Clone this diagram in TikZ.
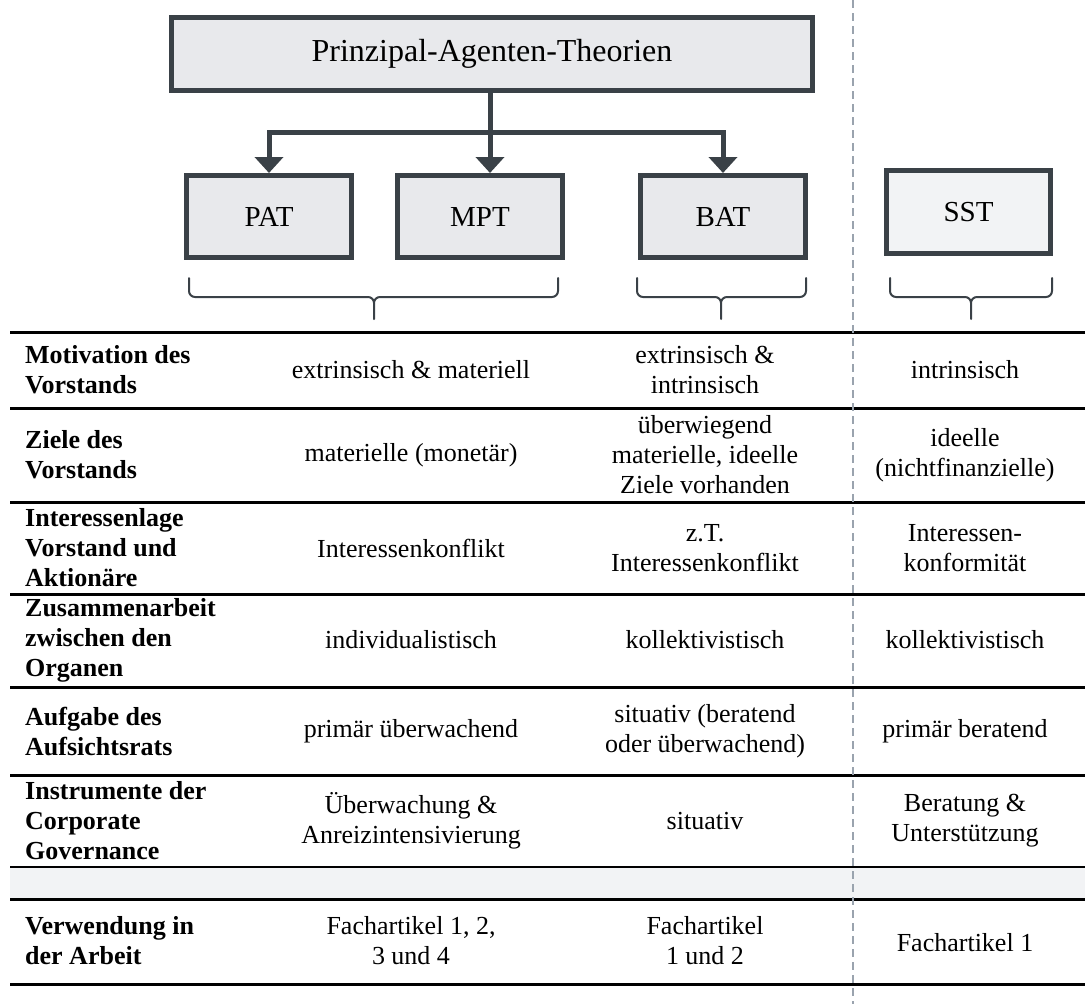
\documentclass[tikz,border=0pt]{standalone}
\usepackage{fontspec}
\setmainfont{Liberation Serif}
\usetikzlibrary{arrows.meta}
\definecolor{boxline}{HTML}{3A4147}
\definecolor{boxfill}{HTML}{E8E9EC}
\definecolor{sstfill}{HTML}{F2F3F5}
\definecolor{bandfill}{HTML}{F2F3F5}
\definecolor{dashcol}{HTML}{9AA3AE}
\newcommand{\mybrace}[3]{%
  \draw[bracestyle] (#1,278) -- (#1,291) to[out=-90,in=180] (#1+6,297) -- (#3-6,297) to[out=0,in=90] (#3,303) -- (#3,319);
  \draw[bracestyle] (#2,278) -- (#2,291) to[out=-90,in=0] (#2-6,297) -- (#3+6,297) to[out=180,in=90] (#3,303);
}
\begin{document}
\begin{tikzpicture}[x=1pt,y=-1pt,
  theobox/.style={draw=boxline,fill=boxfill,line width=5pt,inner sep=0pt,text height=19pt,text depth=0pt,font=\fontsize{29}{33}\selectfont},
  conn/.style={draw=boxline,line width=5pt,line join=miter},
  tip/.style={-{Triangle[width=28pt,length=16pt]}},
  bracestyle/.style={draw=boxline,line width=2pt,line cap=round},
  rule/.style={draw=black,line width=3pt},
  thinrule/.style={draw=black,line width=1.5pt},
  lab/.style={anchor=west,align=left,inner sep=0pt,font=\fontsize{26}{30}\selectfont\bfseries},
  cell/.style={anchor=center,align=center,inner sep=0pt,font=\fontsize{26}{30}\selectfont}]
\useasboundingbox (0,0) rectangle (1085,1004);

% boxes
\node[theobox,minimum width=641pt,minimum height=73pt,text height=22pt,text depth=7pt,font=\fontsize{32}{38}\selectfont] (top) at (492,54) {Prinzipal-Agenten-Theorien};
\node[theobox,minimum width=165pt,minimum height=82pt] (pat) at (269,216.5) {PAT};
\node[theobox,minimum width=165pt,minimum height=82pt] (mpt) at (480,216.5) {MPT};
\node[theobox,minimum width=165pt,minimum height=82pt] (bat) at (723,216.5) {BAT};
\node[theobox,fill=sstfill,minimum width=164pt,minimum height=83pt] (sst) at (968.5,212) {SST};

% connectors
\coordinate (hub) at (490,132);
\draw[conn] (top.south -| hub) -- (hub);
\draw[conn,tip] (hub) -| (pat.north);
\draw[conn,tip] (hub) -- (hub |- mpt.north);
\draw[conn,tip] (hub) -| (bat.north);

% braces
\mybrace{189}{558}{374}
\mybrace{637}{806}{721}
\mybrace{890}{1052}{971}

% table band and rules
\fill[bandfill] (10,867) rectangle (1085,899);
\draw[rule] (10,332) -- (1085,332);
\draw[rule] (10,408) -- (1085,408);
\draw[rule] (10,502) -- (1085,502);
\draw[rule] (10,594) -- (1085,594);
\draw[rule] (10,687) -- (1085,687);
\draw[rule] (10,775) -- (1085,775);
\draw[thinrule] (10,867) -- (1085,867);
\draw[rule] (10,899) -- (1085,899);
\draw[rule] (10,984) -- (1085,984);

% row 1
\node[lab] (l1) at (25,370) {Motivation des\\Vorstands};
\node[cell] (a1) at (411,370) {extrinsisch \& materiell};
\node[cell] (b1) at (705,370) {extrinsisch \&\\intrinsisch};
\node[cell] (c1) at (965,370) {intrinsisch};
% row 2
\node[lab] (l2) at (25,455) {Ziele des\\Vorstands};
\node[cell] (a2) at (411,455) {materielle (monetär)};
\node[cell] (b2) at (705,455) {überwiegend\\materielle, ideelle\\Ziele vorhanden};
\node[cell] (c2) at (965,455) {ideelle\\(nichtfinanzielle)};
% row 3
\node[lab] (l3) at (25,548) {Interessenlage\\Vorstand und\\Aktionäre};
\node[cell] (a3) at (411,548) {Interessenkonflikt};
\node[cell] (b3) at (705,548) {z.T.\\Interessenkonflikt};
\node[cell] (c3) at (965,548) {Interessen-\\konformität};
% row 4
\node[lab] (l4) at (25,640) {Zusammenarbeit\\zwischen den\\Organen};
\node[cell] (a4) at (411,640) {individualistisch};
\node[cell] (b4) at (705,640) {kollektivistisch};
\node[cell] (c4) at (965,640) {kollektivistisch};
% row 5
\node[lab] (l5) at (25,731) {Aufgabe des\\Aufsichtsrats};
\node[cell] (a5) at (411,731) {primär überwachend};
\node[cell] (b5) at (705,731) {situativ (beratend\\oder überwachend)};
\node[cell] (c5) at (965,731) {primär beratend};
% row 6
\node[lab] (l6) at (25,821) {Instrumente der\\Corporate\\Governance};
\node[cell] (a6) at (411,821) {Überwachung \&\\Anreizintensivierung};
\node[cell] (b6) at (705,821) {situativ};
\node[cell] (c6) at (965,821) {Beratung \&\\Unterstützung};
% row 7
\node[lab] (l7) at (25,941) {Verwendung in\\der Arbeit};
\node[cell] (a7) at (411,941) {Fachartikel 1, 2,\\3 und 4};
\node[cell] (b7) at (705,941) {Fachartikel\\1 und 2};
\node[cell] (c7) at (965,943) {Fachartikel 1};

% dashed separator
\draw[dashcol,line width=2pt,dash pattern=on 8pt off 5pt] (853,0) -- (853,1004);
\end{tikzpicture}
\end{document}
